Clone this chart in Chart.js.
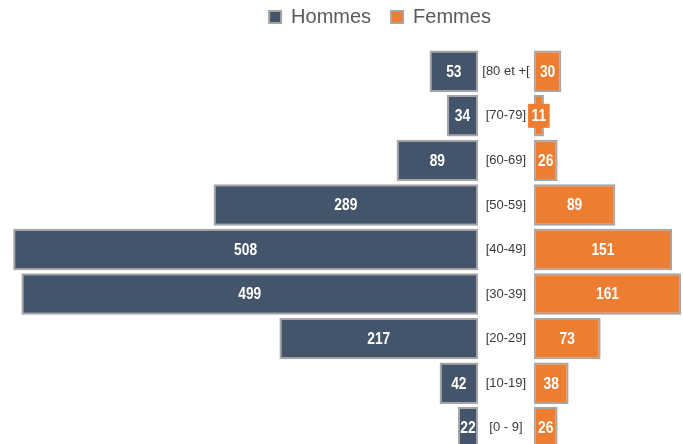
<!DOCTYPE html>
<html><head><meta charset="utf-8">
<script src="https://cdn.jsdelivr.net/npm/chart.js@4/dist/chart.umd.min.js"></script>
<style>
html,body{margin:0;padding:0;overflow:hidden;background:#fff;}
#wrap{width:683px;height:450px;position:relative;}
</style></head>
<body><div id="wrap"><canvas id="c"></canvas></div>
<script>
const categories = ['[80 et +[','[70-79]','[60-69]','[50-59]','[40-49]','[30-39]','[20-29]','[10-19]','[0 - 9]'];
const hommes = [53,34,89,289,508,499,217,42,22];
const femmes = [30,11,26,89,151,161,73,38,26];
const seriesNames = ['Hommes','Femmes'];

const GAP = 61;          // central gap (in axis units) holding the age labels
const COL_H = '#44546A', COL_F = '#ED7D31', BORDER = '#A5A5A5';
const SQUEEZE = 0.86;    // horizontal condensing of the value labels

const labelPlugin = {
  id: 'pyramidLabels',
  afterLayout(chart){
    const lg = chart.legend;
    lg.left += 77; lg.top -= 12;
  },
  afterDatasetsDraw(chart){
    const ctx = chart.ctx;
    const ys = chart.scales.y, xs = chart.scales.x;
    ctx.save();
    // category labels in the gap
    ctx.font = "13px 'Liberation Sans',Arial,sans-serif";
    ctx.fillStyle = '#3A3A3A';
    ctx.textAlign = 'center'; ctx.textBaseline = 'middle';
    const cx = (xs.getPixelForValue(0) + xs.getPixelForValue(GAP)) / 2;
    categories.forEach((c,i)=>{ ctx.fillText(c, cx, ys.getPixelForValue(i)); });
    // value labels
    ctx.font = "bold 16px 'Liberation Sans',Arial,sans-serif";
    const vals = [hommes, femmes];
    chart.data.datasets.forEach((ds,di)=>{
      const meta = chart.getDatasetMeta(di);
      meta.data.forEach((el,i)=>{
        const p = el.getProps(['x','base','y'], true);
        const mx = (p.x + p.base)/2;
        const txt = String(vals[di][i]);
        const tw = ctx.measureText(txt).width * SQUEEZE;
        const bw = Math.abs(p.x - p.base);
        if (bw < tw) {
          ctx.fillStyle = ds.backgroundColor;
          ctx.fillRect(mx - tw/2 - 3.5, p.y - 12, tw + 7, 24);
        }
        ctx.save();
        ctx.translate(mx, p.y + 1);
        ctx.scale(SQUEEZE, 1);
        ctx.fillStyle = '#FFFFFF';
        ctx.fillText(txt, 0, 0);
        ctx.restore();
      });
    });
    ctx.restore();
  }
};

new Chart(document.getElementById('c'), {
  type: 'bar',
  data: {
    labels: categories,
    datasets: [
      { label: seriesNames[0], data: hommes.map(v=>[-v,0]), backgroundColor: COL_H,
        borderColor: BORDER, borderWidth: 2, borderSkipped: false, grouped: false,
        barPercentage: 0.93, categoryPercentage: 1 },
      { label: seriesNames[1], data: femmes.map(v=>[GAP, GAP+v]), backgroundColor: COL_F,
        borderColor: BORDER, borderWidth: 2, borderSkipped: false, grouped: false,
        barPercentage: 0.93, categoryPercentage: 1 }
    ]
  },
  options: {
    indexAxis: 'y',
    responsive: true, maintainAspectRatio: false, animation: false,
    layout: { padding: { top: -1, left: 0, right: 0, bottom: 0 } },
    scales: {
      x: { display: false, min: -522.4, max: 224 },
      y: { display: false }
    },
    plugins: {
      tooltip: { enabled: false },
      legend: {
        position: 'top',
        labels: {
          boxWidth: 12, boxHeight: 12, padding: 20,
          color: '#595959',
          font: { family: "'Liberation Sans',Arial,sans-serif", size: 20 }
        }
      }
    }
  },
  plugins: [labelPlugin]
});
</script>
</body></html>
